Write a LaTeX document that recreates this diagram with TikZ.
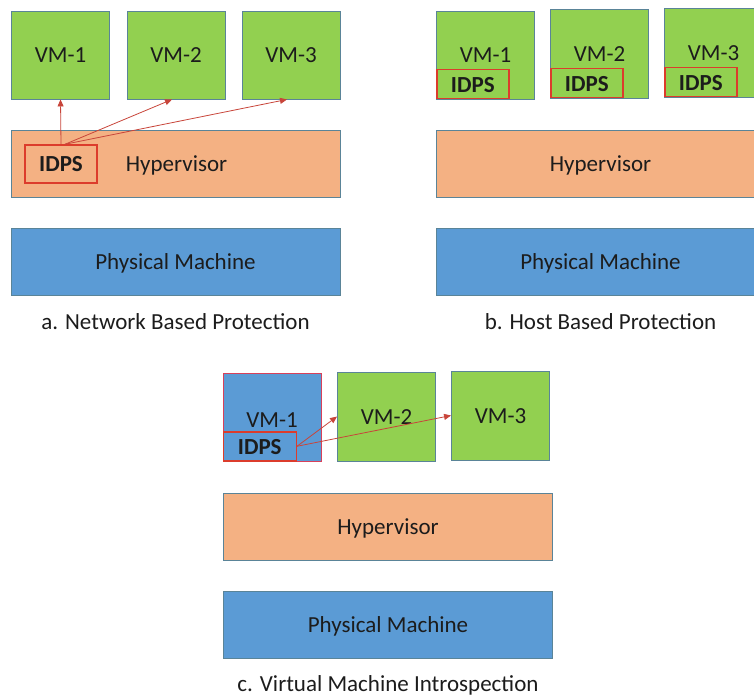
\documentclass[tikz,border=0pt]{standalone}
\usepackage{fontspec}
\setmainfont{Carlito}
\usetikzlibrary{arrows.meta,calc}

\definecolor{vmgreen}{HTML}{92D050}
\definecolor{hvorange}{HTML}{F4B183}
\definecolor{pmblue}{HTML}{5B9BD5}
\definecolor{edgeblue}{HTML}{5A8498}
\definecolor{idpsred}{HTML}{DC3C2C}
\definecolor{vmired}{HTML}{D8405A}
\definecolor{linkred}{HTML}{C8453A}
\definecolor{inktext}{HTML}{1C1C1C}

\tikzset{
  label text/.style={text=inktext, font=\fontsize{23}{27}\selectfont,
    text height=21.9pt, text depth=6.2pt},
  layer/.style={draw=edgeblue, line width=0.9pt, inner sep=0pt, label text},
  vmbox/.style={layer, fill=vmgreen, minimum width=98pt, minimum height=88pt},
  hvbox/.style={layer, fill=hvorange, minimum width=329pt, minimum height=67pt},
  pmbox/.style={layer, fill=pmblue, minimum width=329pt, minimum height=67pt},
  idpsbox/.style={draw=idpsred, line width=1.5pt, inner sep=0pt, label text,
    font=\fontsize{23}{27}\selectfont\bfseries, minimum width=72pt, minimum height=29pt},
  caption/.style={label text},
  link/.style={draw=linkred, line width=0.8pt, -{Triangle[length=7pt,width=6pt]}},
}

\begin{document}
\begin{tikzpicture}[x=1pt,y=-1pt]
\useasboundingbox (0,0) rectangle (754,697);

% --- a. Network based protection ---
\node[vmbox] (a1) at (60.5,55) {VM-1};
\node[vmbox] (a2) at (176,55) {VM-2};
\node[vmbox] (a3) at (291,55) {VM-3};
\node[hvbox] (ah) at (175.5,163.5) {};
\node[label text] at (176.5,163.5) {Hypervisor};
\node[idpsbox, fill=hvorange, minimum height=38pt] (ai) at (61,164) {IDPS};
\node[pmbox] (ap) at (175.5,262) {Physical Machine};
\node[caption] (acap) at (175.5,322) {a. Network Based Protection};
\coordinate (aout) at ($(ai.north)+(4,0)$);
\draw[link] (ai.north) -- (a1.south);
\draw[link] (aout) -- ([xshift=-4pt]a2.south);
\draw[link] (aout) -- ([xshift=-4pt]a3.south);

% --- b. Host based protection ---
\node[vmbox, minimum height=88pt] (b1) at (485.5,55) {VM-1};
\node[vmbox, minimum height=89pt] (b2) at (599.5,53.5) {VM-2};
\node[vmbox, minimum height=89pt] (b3) at (713.5,52.5) {VM-3};
\node[idpsbox, fill=vmgreen, anchor=south west] (bi1) at (b1.south west) {IDPS};
\node[idpsbox, fill=vmgreen, anchor=south west] (bi2) at (b2.south west) {IDPS};
\node[idpsbox, fill=vmgreen, anchor=south west] (bi3) at (b3.south west) {IDPS};
\node[hvbox] (bh) at (600.5,163.5) {Hypervisor};
\node[pmbox] (bp) at (600.5,262) {Physical Machine};
\node[caption] (bcap) at (600.5,322) {b. Host Based Protection};

% --- c. Virtual machine introspection ---
\node[vmbox, fill=pmblue, draw=vmired, line width=1pt] (c1) at (272,417) {};
\node[label text] at (272,420) {VM-1};
\node[idpsbox, fill=pmblue, minimum width=73pt, anchor=south west] (ci) at (c1.south west) {IDPS};
\node[vmbox, minimum height=89pt] (c2) at (386.5,416.5) {VM-2};
\node[vmbox, minimum height=89pt] (c3) at (500.5,415.5) {VM-3};
\node[hvbox] (ch) at (388,527) {Hypervisor};
\node[pmbox] (cp) at (388,625) {Physical Machine};
\node[caption] (ccap) at (388,684) {c. Virtual Machine Introspection};
\draw[link] (ci.east) -- (c2.west);
\draw[link] (ci.east) -- (c3.west);
\end{tikzpicture}
\end{document}
